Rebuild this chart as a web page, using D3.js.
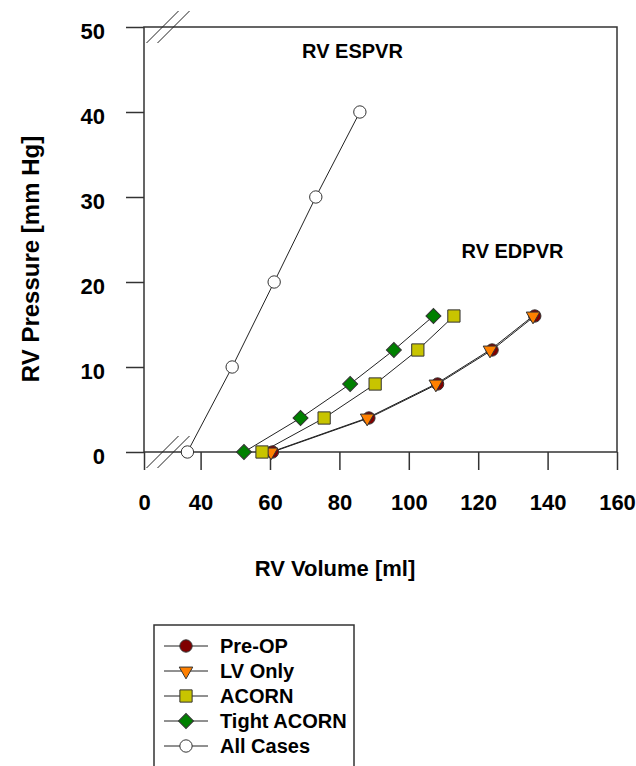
<!DOCTYPE html>
<html lang="en">
<head>
    <meta charset="UTF-8">
    <title>RV Pressure-Volume Relations</title>
    <script src="https://d3js.org/d3.v7.min.js"></script>
    <style>
        body, html {
            margin: 0;
            background: #fff;
        }
        svg text {
            font-family: "Liberation Sans", Arial, sans-serif;
            font-weight: bold;
            fill: #000;
        }
    </style>
</head>
<body>
    <div id="chart"></div>
    <script>
        // Data: [volume ml, pressure mm Hg]
        const preOp = [[60.7, 0], [88.5, 4], [108.3, 8], [124, 12], [136.3, 16]];
        const lvOnly = [[60.3, 0], [88, 4], [107.8, 8], [123.4, 12], [135.8, 16]];
        const acorn = [[57.7, 0], [75.6, 4], [90.3, 8], [102.6, 12], [113, 16]];
        const tightAcorn = [[52.5, 0], [68.8, 4], [83.1, 8], [95.7, 12], [107.1, 16]];
        const allCases = [[36.2, 0], [49.1, 10], [61.2, 20], [73.2, 30], [85.9, 40]];

        const xTicks = [0, 40, 60, 80, 100, 120, 140, 160];
        const yTicks = [0, 10, 20, 30, 40, 50];

        const width = 636;
        const height = 766;
        const plotLeft = 144, plotRight = 617, plotTop = 27, plotBottom = 452;

        const svg = d3.select("#chart")
            .append("svg")
            .attr("width", width)
            .attr("height", height);

        // x axis is broken between 0 and ~30; linear above that
        const unit = (plotRight - 165.9) / 130;
        const x = d3.scaleLinear()
            .domain([0, 30, 160])
            .range([plotLeft, plotRight - 130 * unit, plotRight]);
        const y = d3.scaleLinear().domain([0, 50]).range([plotBottom, plotTop]);

        // frame
        svg.append("rect")
            .attr("x", plotLeft).attr("y", plotTop)
            .attr("width", plotRight - plotLeft).attr("height", plotBottom - plotTop)
            .attr("fill", "none")
            .attr("stroke", "#333")
            .attr("stroke-width", 1.5);

        // axes
        const xAxis = svg.append("g")
            .attr("transform", `translate(0,${plotBottom})`)
            .call(d3.axisBottom(x).tickValues(xTicks).tickSize(18).tickSizeOuter(0));
        xAxis.select(".domain").remove();
        xAxis.selectAll("line").attr("stroke", "#333").attr("stroke-width", 1.5);
        xAxis.selectAll("text")
            .attr("y", 58).attr("dy", null)
            .style("font-size", "22px");

        const yAxis = svg.append("g")
            .attr("transform", `translate(${plotLeft},0)`)
            .call(d3.axisLeft(y).tickValues(yTicks).tickSize(18).tickSizeOuter(0));
        yAxis.select(".domain").remove();
        yAxis.selectAll("line").attr("stroke", "#333").attr("stroke-width", 1.5);
        yAxis.selectAll("text")
            .attr("x", -39).attr("dy", "0.52em")
            .style("font-size", "22px");

        // axis break marks, top and bottom
        const bx = x(0) + 24;
        [plotTop, plotBottom].forEach(yy => {
            [-5.5, 5.5].forEach(off => {
                svg.append("line")
                    .attr("x1", bx + off - 16).attr("y1", yy + 16)
                    .attr("x2", bx + off + 16).attr("y2", yy - 16)
                    .attr("stroke", "#222").attr("stroke-width", 1);
            });
        });

        // titles
        svg.append("text")
            .attr("x", 335).attr("y", 576)
            .attr("text-anchor", "middle")
            .style("font-size", "22px")
            .text("RV Volume [ml]");
        svg.append("text")
            .attr("transform", "translate(39,259) rotate(-90)")
            .attr("text-anchor", "middle")
            .style("font-size", "24px")
            .text("RV Pressure [mm Hg]");

        svg.append("text")
            .attr("x", 352.5).attr("y", 58)
            .attr("text-anchor", "middle")
            .style("font-size", "20px")
            .text("RV ESPVR");
        svg.append("text")
            .attr("x", 512.5).attr("y", 258)
            .attr("text-anchor", "middle")
            .style("font-size", "20px")
            .text("RV EDPVR");

        // series
        const series = [
            { name: "All Cases", data: allCases, fill: "#fff", shape: "circle" },
            { name: "Pre-OP", data: preOp, fill: "#800000", shape: "circle" },
            { name: "LV Only", data: lvOnly, fill: "#ff8000", shape: "triangle" },
            { name: "ACORN", data: acorn, fill: "#c8c400", shape: "square" },
            { name: "Tight ACORN", data: tightAcorn, fill: "#008000", shape: "diamond" }
        ];

        function symbolPath(shape) {
            if (shape === "circle") return d3.symbol(d3.symbolCircle, 120)();
            if (shape === "triangle") return d3.symbol(d3.symbolTriangle, 80)();
            if (shape === "square") return d3.symbol(d3.symbolSquare, 150)();
            return d3.symbol(d3.symbolSquare, 112)();
        }
        function symbolRotate(shape) {
            if (shape === "triangle") return " rotate(180)";
            if (shape === "diamond") return " rotate(45)";
            return "";
        }

        const line = d3.line().x(d => x(d[0])).y(d => y(d[1]));

        const plot = svg.append("g");
        series.forEach(s => {
            plot.append("path")
                .attr("d", line(s.data))
                .attr("fill", "none")
                .attr("stroke", "#222")
                .attr("stroke-width", 1);
        });
        series.forEach(s => {
            plot.append("g")
                .selectAll("path")
                .data(s.data)
                .join("path")
                .attr("d", symbolPath(s.shape))
                .attr("transform", d => `translate(${x(d[0])},${y(d[1])})${symbolRotate(s.shape)}`)
                .attr("fill", s.fill)
                .attr("stroke", "#333")
                .attr("stroke-width", 1);
        });

        // legend
        const legendOrder = ["Pre-OP", "LV Only", "ACORN", "Tight ACORN", "All Cases"];
        const legend = svg.append("g");
        legend.append("rect")
            .attr("x", 154).attr("y", 625)
            .attr("width", 200).attr("height", 170)
            .attr("fill", "#fff")
            .attr("stroke", "#333")
            .attr("stroke-width", 1.5);
        legendOrder.forEach((name, i) => {
            const s = series.find(d => d.name === name);
            const ly = 646 + i * 25;
            legend.append("line")
                .attr("x1", 164).attr("x2", 208)
                .attr("y1", ly).attr("y2", ly)
                .attr("stroke", "#222").attr("stroke-width", 1);
            legend.append("path")
                .attr("d", symbolPath(s.shape))
                .attr("transform", `translate(186,${ly})${symbolRotate(s.shape)}`)
                .attr("fill", s.fill)
                .attr("stroke", "#333")
                .attr("stroke-width", 1);
            legend.append("text")
                .attr("x", 220).attr("y", ly + 7)
                .style("font-size", "20px")
                .text(name);
        });
    </script>
</body>
</html>
